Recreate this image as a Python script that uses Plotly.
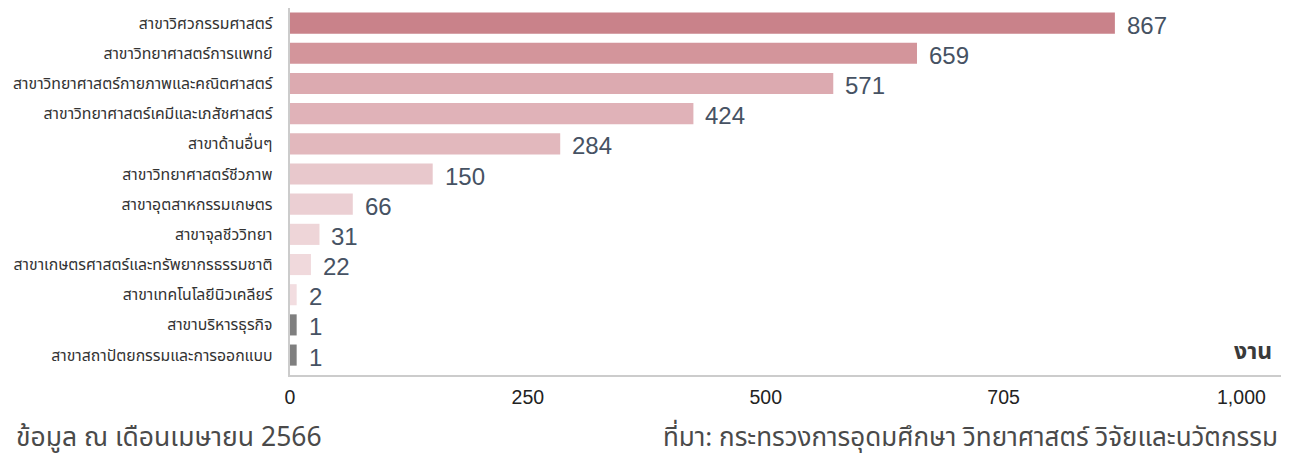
import plotly.graph_objects as go

categories = [
    "สาขาวิศวกรรมศาสตร์",
    "สาขาวิทยาศาสตร์การแพทย์",
    "สาขาวิทยาศาสตร์กายภาพและคณิตศาสตร์",
    "สาขาวิทยาศาสตร์เคมีและเภสัชศาสตร์",
    "สาขาด้านอื่นๆ",
    "สาขาวิทยาศาสตร์ชีวภาพ",
    "สาขาอุตสาหกรรมเกษตร",
    "สาขาจุลชีววิทยา",
    "สาขาเกษตรศาสตร์และทรัพยากรธรรมชาติ",
    "สาขาเทคโนโลยีนิวเคลียร์",
    "สาขาบริหารธุรกิจ",
    "สาขาสถาปัตยกรรมและการออกแบบ",
]
values = [867, 659, 571, 424, 284, 150, 66, 31, 22, 2, 1, 1]
colors = ["#c9828a", "#d3959b", "#dcaab0", "#e0b2b8", "#e2b8bd", "#e8c8cc",
          "#ebcfd3", "#eed5d8", "#f0d9dc", "#f2dde0", "#7f7f7f", "#7f7f7f"]
tick_vals = [0, 250, 500, 750, 1000]
tick_text = ["0", "250", "500", "705", "1,000"]

MIN_BAR = 7  # minimum visible bar length (style)
display = [max(v, MIN_BAR) for v in values]

font_family = "Noto Sans Thai, Noto Sans, Noto Sans CJK SC, sans-serif"
num_font = "Liberation Sans, Arial, sans-serif"

fig = go.Figure()
fig.add_trace(go.Bar(
    x=display, y=categories, orientation="h",
    marker=dict(color=colors, line=dict(width=0)),
    width=0.7, hoverinfo="skip",
))

for c, v, d in zip(categories, values, display):
    fig.add_annotation(x=d, y=c, text=f"{v:,}", showarrow=False,
                       xanchor="left", xshift=10, yshift=-2,
                       font=dict(size=24, color="#465263", family=num_font))

fig.add_annotation(x=1, y=0, xref="paper", yref="paper", text="<b>งาน</b>",
                   showarrow=False, xanchor="right", yanchor="middle",
                   xshift=-15, yshift=23,
                   font=dict(size=23, color="#3a3a3a", family=font_family))

fig.add_annotation(x=0, y=0, xref="paper", yref="paper",
                   text="ข้อมูล ณ เดือนเมษายน 2566", showarrow=False,
                   xanchor="left", yanchor="middle", xshift=-276, yshift=-63,
                   font=dict(size=26.5, color="#4a4a4a", family=font_family))
fig.add_annotation(x=1, y=0, xref="paper", yref="paper",
                   text="ที่มา: กระทรวงการอุดมศึกษา วิทยาศาสตร์ วิจัยและนวัตกรรม",
                   showarrow=False, xanchor="right", yanchor="middle",
                   xshift=-9, yshift=-63,
                   font=dict(size=26, color="#4a4a4a", family=font_family))

fig.update_layout(
    width=1281, height=451,
    margin=dict(l=282, r=0, t=0, b=84),
    paper_bgcolor="white", plot_bgcolor="white",
    showlegend=False,
    font=dict(family=font_family),
    xaxis=dict(range=[0, 1050], tickvals=tick_vals, ticktext=tick_text,
               showgrid=False, zeroline=False, showline=True,
               linecolor="#cccccc", linewidth=2, ticks="", automargin=False,
               ticklabelstandoff=4,
               tickfont=dict(size=19.5, color="#222222", family=num_font)),
    yaxis=dict(categoryorder="array", categoryarray=categories,
               range=[11.66, -0.5], showgrid=False, zeroline=False,
               showline=True, linecolor="#cccccc", linewidth=2, ticks="",
               automargin=False, ticksuffix="   ",
               tickfont=dict(size=15.8, color="#333333", family=font_family)),
)

fig.write_html("out.html")
